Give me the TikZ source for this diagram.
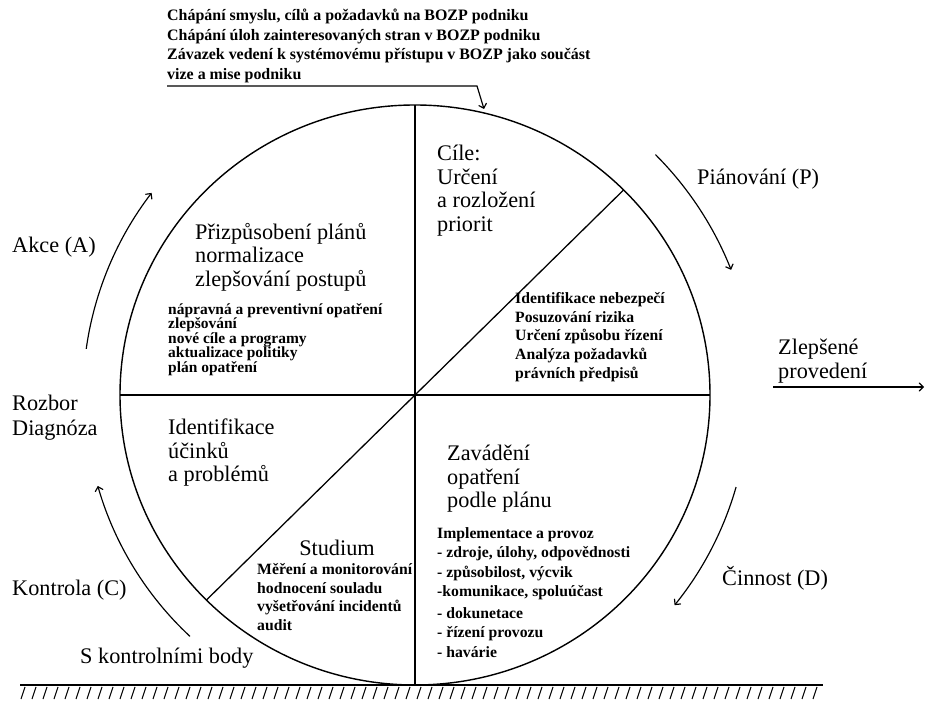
\documentclass[tikz,border=0pt]{standalone}
\usepackage{fontspec}
\setmainfont{Liberation Serif}
\usetikzlibrary{arrows}

\begin{document}
\begin{tikzpicture}[x=0.03cm,y=0.03cm,>=angle 90,
  big/.style={anchor=north west,align=left,inner sep=0pt,font=\fontsize{19}{20}\selectfont},
  small/.style={anchor=north west,align=left,inner sep=0pt,font=\fontsize{13.4}{16}\selectfont\bfseries},
  cycle/.style={->,line width=1pt}]
\useasboundingbox (0,0) rectangle (925,700);
% circle and its sectors
\coordinate (c) at (415,305);
\draw[line width=1.2pt] (c) ellipse [x radius=295,y radius=290];
\coordinate (ctop) at (415,595);
\coordinate (cbot) at (415,15);
\coordinate (cleft) at (120,305);
\coordinate (cright) at (710,305);
\coordinate (cne) at ([shift={(45:295 and 290)}]c);
\coordinate (csw) at ([shift={(225:295 and 290)}]c);
\draw[line width=2.4pt] (ctop) -- (cbot);
\draw[line width=2.4pt] (cleft) -- (cright);
\draw[line width=1.1pt] (cne) -- (csw);
% ground
\draw[line width=1.3pt] (20,15) -- (823,15);
\foreach \x in {25,36,...,822}
  \draw[line width=0.9pt] (\x,13) -- ++(-4,-12);
% sector texts
\node[small,font=\fontsize{13.6}{16.6}\selectfont\bfseries] (goals) at (167,691) {Chápání smyslu, cílů a požadavků na BOZP podniku\\Chápání úloh zainteresovaných stran v BOZP podniku\\Závazek vedení k systémovému přístupu v BOZP jako součást\\vize a mise podniku};
\node[big] (adapt) at (195,477) {Přizpůsobení plánů\\normalizace\\zlepšování postupů};
\node[small,font=\fontsize{13.2}{12.4}\selectfont\bfseries] (adaptlist) at (168,397) {nápravná a preventivní opatření\\zlepšování\\nové cíle a programy\\aktualizace politiky\\plán opatření};
\node[big] (aims) at (437,555) {Cíle:\\Určení\\a rozložení\\priorit};
\node[small] (hazards) at (515,408) {Identifikace nebezpečí\\Posuzování rizika\\Určení způsobu řízení\\Analýza požadavků\\právních předpisů};
\node[big] (effects) at (168,281) {Identifikace\\účinků\\a problémů};
\node[big] (doing) at (447,255) {Zavádění\\opatření\\podle plánu};
\node[small,font=\fontsize{13.4}{16.6}\selectfont\bfseries] (doinglist) at (437,173) {Implementace a provoz\\- zdroje, úlohy, odpovědnosti\\- způsobilost, výcvik\\-komunikace, spoluúčast\\[2pt]- dokunetace\\- řízení provozu\\- havárie};
\node[font=\fontsize{19}{20}\selectfont,inner sep=0pt] (study) at (337,152) {Studium};
\node[small] (studylist) at (257,137) {Měření a monitorování\\hodnocení souladu\\vyšetřování incidentů\\audit};
% labels round the circle
\node[big,anchor=west] (plan) at (697,521) {Piánování (P)};
\node[big,anchor=west] (act) at (12,453) {Akce (A)};
\node[big,font=\fontsize{19}{21}\selectfont] (diag) at (12,305) {Rozbor\\Diagnóza};
\node[big,anchor=west] (check) at (12,110) {Kontrola (C)};
\node[big,anchor=west] (points) at (80,42) {S kontrolními body};
\node[big,anchor=west] (do) at (722,122) {Činnost (D)};
\node[big] (better) at (778,361) {Zlepšené\\provedení};
% arrows
\coordinate (ulstart) at (167,614);
\coordinate (ulend) at (477,614);
\coordinate (goal) at (484,591);
\draw[->,line width=1pt] (ulstart) -- (ulend) -- (goal);
\coordinate (outstart) at (773,313);
\coordinate (outend) at (924,313);
\draw[->,line width=1pt] (outstart) -- (outend);
\draw[cycle] ([shift={(45:340)}]c) arc[start angle=45,end angle=21.6,radius=340];
\draw[cycle] ([shift={(-16:334)}]c) arc[start angle=-16,end angle=-39,radius=334];
\draw[cycle] ([shift={(227:330)}]c) arc[start angle=227,end angle=196,radius=330];
\draw[cycle] ([shift={(172:332)}]c) arc[start angle=172,end angle=142.5,radius=332];
\end{tikzpicture}
\end{document}
